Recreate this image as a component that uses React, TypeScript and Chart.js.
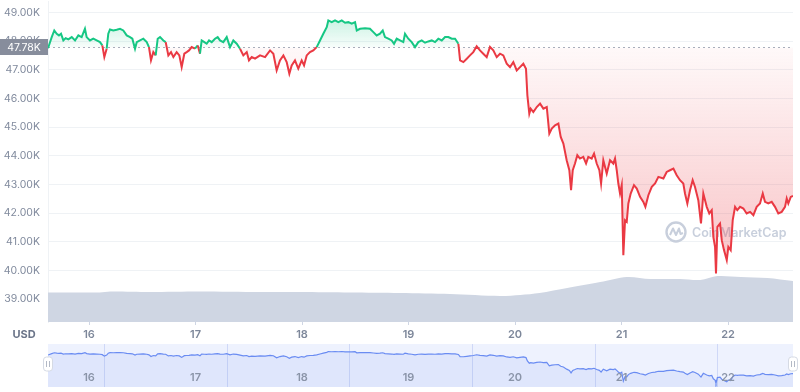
import React, { useEffect, useRef } from 'react';
import { Chart, registerables } from 'chart.js';

Chart.register(...registerables);

const BASELINE = 47780;
const X_MIN = 15.615;
const X_MAX = 22.61;

const priceDays = [
  15.615, 15.65, 15.674, 15.697, 15.718, 15.737, 15.759, 15.781, 15.806, 15.838, 15.869, 15.9, 15.931, 15.962, 15.978,
  16.009, 16.04, 16.072, 16.103, 16.125, 16.144, 16.166, 16.181, 16.197, 16.228, 16.26, 16.291, 16.322, 16.354, 16.385,
  16.407, 16.432, 16.448, 16.479, 16.51, 16.542, 16.563, 16.582, 16.604, 16.626, 16.645, 16.667, 16.698, 16.72, 16.745,
  16.77, 16.792, 16.823, 16.848, 16.87, 16.895, 16.917, 16.939, 16.964, 16.995,
  17.021, 17.042, 17.058, 17.083, 17.105, 17.127, 17.152, 17.183, 17.208, 17.23, 17.261, 17.293, 17.324, 17.355, 17.387,
  17.418, 17.449, 17.481, 17.502, 17.528, 17.559, 17.606, 17.653, 17.7, 17.731, 17.762, 17.793, 17.825, 17.856, 17.881,
  17.903, 17.934, 17.965, 17.997,
  18.019, 18.044, 18.075, 18.106, 18.138, 18.169, 18.2, 18.232, 18.247, 18.279, 18.31, 18.341, 18.373, 18.404, 18.435,
  18.467, 18.498, 18.514, 18.545, 18.592, 18.638, 18.67, 18.701, 18.732, 18.758, 18.779, 18.81, 18.842, 18.864, 18.889,
  18.92, 18.951, 18.967, 18.998,
  19.03, 19.061, 19.092, 19.124, 19.155, 19.186, 19.218, 19.249, 19.28, 19.312, 19.343, 19.374, 19.406, 19.437, 19.468,
  19.484, 19.515, 19.547, 19.577, 19.608, 19.64, 19.671, 19.702, 19.734, 19.765, 19.796, 19.828, 19.859, 19.89, 19.922,
  19.953, 19.984,
  20.016, 20.047, 20.078, 20.103, 20.116, 20.134, 20.147, 20.172, 20.204, 20.235, 20.266, 20.298, 20.322, 20.345, 20.376,
  20.407, 20.429, 20.454, 20.485, 20.51, 20.526, 20.542, 20.563, 20.585, 20.61, 20.641, 20.667, 20.688, 20.72, 20.742,
  20.767, 20.792, 20.808, 20.829, 20.861, 20.892, 20.923, 20.939, 20.955, 20.97, 20.986,
  21.002, 21.017, 21.033, 21.049, 21.064, 21.086, 21.117, 21.143, 21.174, 21.205, 21.224, 21.252, 21.284, 21.315, 21.346,
  21.393, 21.424, 21.455, 21.487, 21.518, 21.549, 21.58, 21.596, 21.618, 21.643, 21.668, 21.69, 21.721, 21.746, 21.768,
  21.8, 21.824, 21.847, 21.862, 21.878, 21.887, 21.9, 21.925, 21.941, 21.962, 21.988,
  22.003, 22.025, 22.044, 22.066, 22.087, 22.113, 22.144, 22.175, 22.207, 22.238, 22.269, 22.3, 22.326, 22.347, 22.378,
  22.41, 22.441, 22.472, 22.504, 22.535, 22.551, 22.566, 22.589, 22.61,
];

const prices = [
  47750, 48140, 48373, 48258, 48199, 48258, 48024, 48105, 48059, 48140, 48024, 48199, 48140, 48432, 48140,
  48024, 48084, 48024, 47965, 47850, 47443, 47735, 48258, 48408, 48373, 48397, 48432, 48373, 48199, 48140,
  48084, 47735, 47965, 48024, 48084, 47965, 47791, 47328, 47617, 47502, 48084, 48140, 48024, 47965, 47502,
  47617, 47443, 47617, 47502, 47094, 47561, 47617, 47676, 47791, 47735,
  47850, 47561, 48024, 47965, 47909, 48024, 47965, 48084, 48140, 48024, 47965, 48140, 47791, 48024, 47909,
  47735, 47502, 47617, 47328, 47443, 47387, 47502, 47443, 47676, 47561, 46979, 47328, 47502, 47268, 46864,
  47153, 47328, 47038, 47328,
  47153, 47502, 47617, 47676, 47791, 48024, 48258, 48488, 48721, 48662, 48721, 48662, 48721, 48641, 48662,
  48606, 48662, 48373, 48432, 48453, 48432, 48314, 48199, 48258, 48373, 48140, 48084, 48024, 47909, 48084,
  48024, 47965, 48258, 48084,
  47965, 47791, 47965, 48024, 47944, 47989, 48024, 47965, 48084, 48024, 48140, 48140, 48084, 48084, 47909,
  47328, 47268, 47387, 47502, 47617, 47820, 47676, 47561, 47443, 47800, 47676, 47443, 47561, 47502, 47213,
  47094, 47268,
  46979, 47094, 47213, 47038, 46108, 45471, 45645, 45527, 45701, 45819, 45645, 45701, 44774, 44948, 45063,
  45122, 44655, 44425, 43844, 43495, 42798, 43495, 43729, 44018, 43903, 43959, 43729, 43959, 43903, 44077,
  43729, 43495, 43032, 43844, 43380, 43844, 43729, 43903, 43495, 43032, 42683,
  42973, 40534, 41753, 41694, 42335, 42683, 42973, 42857, 42565, 42391, 42217, 42624, 42913, 43032, 43262,
  43206, 43436, 43495, 43554, 43321, 43147, 43032, 42683, 42335, 42798, 43147, 42913, 42450, 41638, 42683,
  42217, 41987, 42101, 41172, 40823, 39896, 41520, 41638, 41056, 40708, 40360,
  40823, 40708, 41753, 42217, 42101, 42217, 42160, 41987, 42042, 41927, 42217, 42335, 42683, 42391, 42335,
  42391, 42217, 41987, 42042, 42217, 42509, 42335, 42565, 42600,
];

const volumeDays = [
  15.615, 16.1, 16.2, 16.57, 17.04, 17.61, 17.98, 18.45, 18.92, 19.39, 19.86, 20.05, 20.23, 20.49, 20.8, 21.05,
  21.27, 21.55, 21.74, 21.9, 22.12, 22.37, 22.61,
];
const volumes = [29.5, 29.5, 30.5, 30, 30.5, 30, 30, 29.5, 29, 28, 26, 27, 29, 34, 40, 45, 43, 43, 42, 46, 45, 44, 41];

const xTickDays = [16, 17, 18, 19, 20, 21, 22];
const yTickValues = [39000, 40000, 41000, 42000, 43000, 44000, 45000, 46000, 47000, 48000, 49000];
const navGridDays = [16.15, 17.3, 18.45, 19.6, 20.76, 21.9];

const GREEN = '#16c784';
const RED = '#ea3943';
const FONT = 'Inter, "Noto Sans", sans-serif';

export default function App() {
  const mainRef = useRef<HTMLCanvasElement>(null);
  const navRef = useRef<HTMLCanvasElement>(null);

  useEffect(() => {
    const priceData = priceDays.map((d, i) => ({ x: d, y: prices[i] }));
    const volData = volumeDays.map((d, i) => ({ x: d, y: volumes[i] }));

    const overlay = {
      id: 'overlay',
      beforeDatasetsDraw(chart: any) {
        const { ctx, chartArea, scales } = chart;
        const yb = scales.y.getPixelForValue(BASELINE);
        ctx.save();
        // watermark
        const cx = 676, cy = 232;
        ctx.strokeStyle = '#c8cfdc';
        ctx.lineWidth = 2.4;
        ctx.beginPath();
        ctx.arc(cx, cy, 9.5, 0, Math.PI * 2);
        ctx.stroke();
        ctx.lineWidth = 2;
        ctx.lineJoin = 'round';
        ctx.beginPath();
        ctx.moveTo(cx - 6, cy + 3);
        ctx.lineTo(cx - 3, cy - 3.5);
        ctx.lineTo(cx, cy + 3);
        ctx.lineTo(cx + 3, cy - 3.5);
        ctx.lineTo(cx + 4.5, cy + 2);
        ctx.lineTo(cx + 7, cy + 1);
        ctx.stroke();
        ctx.fillStyle = '#c8cfdc';
        ctx.font = `600 12.5px ${FONT}`;
        ctx.textBaseline = 'middle';
        ctx.textAlign = 'left';
        ctx.fillText('CoinMarketCap', 692, cy + 1);
        // dashed baseline
        ctx.strokeStyle = '#a9afbc';
        ctx.lineWidth = 1;
        ctx.setLineDash([2, 3]);
        ctx.beginPath();
        ctx.moveTo(chartArea.left, Math.round(yb) + 0.5);
        ctx.lineTo(chartArea.right, Math.round(yb) + 0.5);
        ctx.stroke();
        ctx.restore();
      },
      afterDraw(chart: any) {
        const { ctx, scales } = chart;
        const yb = scales.y.getPixelForValue(BASELINE);
        ctx.save();
        ctx.fillStyle = '#878d9c';
        ctx.fillRect(0, Math.round(yb) - 8, 48, 16);
        ctx.fillStyle = '#ffffff';
        ctx.font = `10.5px ${FONT}`;
        ctx.textAlign = 'center';
        ctx.textBaseline = 'middle';
        ctx.fillText((BASELINE / 1000).toFixed(2) + 'K', 24, Math.round(yb) + 0.5);
        ctx.fillStyle = '#6b7589';
        ctx.font = `bold 11px ${FONT}`;
        ctx.fillText('USD', 24, scales.x.top + 13);
        ctx.restore();
      },
    };

    const main = new Chart(mainRef.current as HTMLCanvasElement, {
      type: 'line',
      data: {
        datasets: [
          {
            data: priceData,
            yAxisID: 'y',
            borderColor: GREEN,
            borderWidth: 2,
            pointRadius: 0,
            tension: 0,
            fill: false,
            segment: {
              borderColor: (c: any) => ((c.p0.parsed.y + c.p1.parsed.y) / 2 >= BASELINE ? GREEN : RED),
            },
          } as any,
          {
            data: volData,
            yAxisID: 'yv',
            borderWidth: 0,
            pointRadius: 0,
            tension: 0.3,
            fill: 'origin',
            backgroundColor: '#cfd6e3',
          },
        ],
      },
      options: {
        animation: false,
        responsive: false,
        layout: { padding: { top: 1, right: 7, left: 0, bottom: 0 } },
        plugins: { legend: { display: false }, tooltip: { enabled: false } },
        scales: {
          x: {
            type: 'linear',
            min: X_MIN,
            max: X_MAX,
            afterBuildTicks: (s: any) => {
              s.ticks = xTickDays.map((v) => ({ value: v }));
            },
            afterFit: (s: any) => {
              s.height = 23;
              s.paddingLeft = 0;
              s.paddingRight = 0;
            },
            grid: { drawOnChartArea: false, drawTicks: true, tickLength: 3, color: '#cfd6e4' },
            border: { display: false },
            ticks: {
              padding: 3,
              color: '#7d879a',
              font: { family: FONT, size: 11, weight: '600' as any },
              maxRotation: 0,
              autoSkip: false,
              callback: (v: any) => String(v),
            },
          },
          y: {
            min: 38200,
            max: 49400,
            afterBuildTicks: (s: any) => {
              s.ticks = yTickValues.map((v) => ({ value: v }));
            },
            afterFit: (s: any) => {
              s.width = 48;
              s.paddingTop = 0;
              s.paddingBottom = 0;
            },
            grid: { color: '#eff2f5', drawTicks: false },
            border: { color: '#eff2f5' },
            ticks: {
              padding: 8,
              color: '#808a9d',
              font: { family: FONT, size: 10.5 },
              callback: (v: any) => (Number(v) / 1000).toFixed(2) + 'K',
            },
          },
          yv: { display: false, min: 0, max: 321 },
        },
      },
      plugins: [overlay],
    });

    // gradients for the fill around the baseline
    const ys = main.scales.y;
    const c2d = main.ctx;
    const yb = ys.getPixelForValue(BASELINE);
    const gUp = c2d.createLinearGradient(0, ys.getPixelForValue(48750), 0, yb);
    gUp.addColorStop(0, 'rgba(22,199,132,0.22)');
    gUp.addColorStop(1, 'rgba(22,199,132,0.03)');
    const gDown = c2d.createLinearGradient(0, yb, 0, ys.getPixelForValue(40000));
    gDown.addColorStop(0, 'rgba(234,57,67,0.03)');
    gDown.addColorStop(1, 'rgba(234,57,67,0.30)');
    (main.data.datasets[0] as any).fill = { target: { value: BASELINE }, above: gUp, below: gDown };
    main.update();

    const navPlugin = {
      id: 'nav',
      beforeDraw(chart: any) {
        const { ctx, chartArea } = chart;
        ctx.save();
        ctx.fillStyle = '#eef2fe';
        ctx.fillRect(chartArea.left, chartArea.top, chartArea.right - chartArea.left, chartArea.bottom - chartArea.top);
        ctx.restore();
      },
      afterDraw(chart: any) {
        const { ctx, chartArea, scales } = chart;
        ctx.save();
        ctx.fillStyle = '#8a94a8';
        ctx.font = `600 11px ${FONT}`;
        ctx.textAlign = 'center';
        ctx.textBaseline = 'middle';
        xTickDays.forEach((d) => {
          ctx.fillText(String(d), scales.x.getPixelForValue(d), chartArea.bottom - 9);
        });
        const midY = chartArea.top + 20;
        [chartArea.left, chartArea.right].forEach((hx: number) => {
          ctx.fillStyle = '#ffffff';
          ctx.strokeStyle = '#d5dae4';
          ctx.lineWidth = 1;
          ctx.beginPath();
          (ctx as any).roundRect(hx - 4.5, midY - 7, 9, 14, 3);
          ctx.fill();
          ctx.stroke();
          ctx.strokeStyle = '#b3b9c6';
          ctx.beginPath();
          ctx.moveTo(hx - 1.5, midY - 3);
          ctx.lineTo(hx - 1.5, midY + 3);
          ctx.moveTo(hx + 1.5, midY - 3);
          ctx.lineTo(hx + 1.5, midY + 3);
          ctx.stroke();
        });
        ctx.restore();
      },
    };

    const nav = new Chart(navRef.current as HTMLCanvasElement, {
      type: 'line',
      data: {
        datasets: [
          {
            data: priceData,
            borderColor: '#6a8cf2',
            borderWidth: 1.2,
            pointRadius: 0,
            tension: 0,
            fill: 'start',
            backgroundColor: 'rgba(95,130,240,0.10)',
          },
        ],
      },
      options: {
        animation: false,
        responsive: false,
        layout: { padding: { left: 48, right: 7, top: 4, bottom: 5 } },
        plugins: { legend: { display: false }, tooltip: { enabled: false } },
        scales: {
          x: {
            type: 'linear',
            min: X_MIN,
            max: X_MAX,
            afterBuildTicks: (s: any) => {
              s.ticks = navGridDays.map((v) => ({ value: v }));
            },
            afterFit: (s: any) => {
              s.height = 0;
              s.paddingLeft = 0;
              s.paddingRight = 0;
            },
            ticks: { display: false },
            grid: { color: 'rgba(150,170,235,0.35)', drawTicks: false },
            border: { display: false },
          },
          y: { display: false, min: 38900, max: 50800 },
        },
      },
      plugins: [navPlugin],
    });

    return () => {
      main.destroy();
      nav.destroy();
    };
  }, []);

  return (
    <div style={{ position: 'absolute', left: 0, top: 0, width: 800, height: 392, background: '#ffffff' }}>
      <canvas ref={mainRef} width={800} height={345} style={{ position: 'absolute', left: 0, top: 0 }} />
      <canvas ref={navRef} width={800} height={52} style={{ position: 'absolute', left: 0, top: 340 }} />
    </div>
  );
}
